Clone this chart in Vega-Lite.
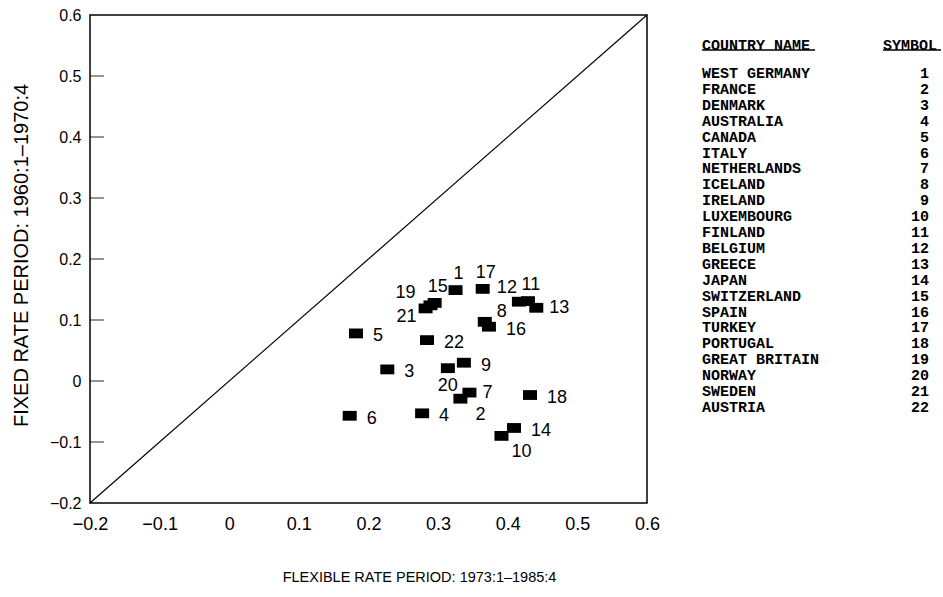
{
  "$schema": "https://vega.github.io/schema/vega-lite/v6.json",
  "background": "white",
  "padding": {"left": 10, "top": 6, "right": 0, "bottom": 0},
  "bounds": "flush",
  "spacing": 55,
  "config": {
    "view": {"stroke": "black", "strokeWidth": 1.5},
    "axis": {"grid": false, "domain": false, "labelColor": "black", "titleColor": "black", "tickColor": "black", "titleFontWeight": "normal", "labelOverlap": false, "labelFlush": false}
  },
  "datasets": {
    "countries": [
      {"symbol": 1, "country": "WEST GERMANY", "flexible": 0.325, "fixed": 0.149},
      {"symbol": 2, "country": "FRANCE", "flexible": 0.332, "fixed": -0.029},
      {"symbol": 3, "country": "DENMARK", "flexible": 0.227, "fixed": 0.019},
      {"symbol": 4, "country": "AUSTRALIA", "flexible": 0.277, "fixed": -0.053},
      {"symbol": 5, "country": "CANADA", "flexible": 0.182, "fixed": 0.078},
      {"symbol": 6, "country": "ITALY", "flexible": 0.173, "fixed": -0.057},
      {"symbol": 7, "country": "NETHERLANDS", "flexible": 0.345, "fixed": -0.019},
      {"symbol": 8, "country": "ICELAND", "flexible": 0.367, "fixed": 0.097},
      {"symbol": 9, "country": "IRELAND", "flexible": 0.337, "fixed": 0.030},
      {"symbol": 10, "country": "LUXEMBOURG", "flexible": 0.391, "fixed": -0.090},
      {"symbol": 11, "country": "FINLAND", "flexible": 0.429, "fixed": 0.131},
      {"symbol": 12, "country": "BELGIUM", "flexible": 0.416, "fixed": 0.130},
      {"symbol": 13, "country": "GREECE", "flexible": 0.441, "fixed": 0.120},
      {"symbol": 14, "country": "JAPAN", "flexible": 0.409, "fixed": -0.077},
      {"symbol": 15, "country": "SWITZERLAND", "flexible": 0.295, "fixed": 0.128},
      {"symbol": 16, "country": "SPAIN", "flexible": 0.373, "fixed": 0.089},
      {"symbol": 17, "country": "TURKEY", "flexible": 0.364, "fixed": 0.151},
      {"symbol": 18, "country": "PORTUGAL", "flexible": 0.432, "fixed": -0.023},
      {"symbol": 19, "country": "GREAT BRITAIN", "flexible": 0.289, "fixed": 0.124},
      {"symbol": 20, "country": "NORWAY", "flexible": 0.314, "fixed": 0.021},
      {"symbol": 21, "country": "SWEDEN", "flexible": 0.282, "fixed": 0.119},
      {"symbol": 22, "country": "AUSTRIA", "flexible": 0.284, "fixed": 0.067}
    ],
    "yticks": [
      {"value": -0.1}, {"value": 0}, {"value": 0.1}, {"value": 0.2}, {"value": 0.3}, {"value": 0.4}, {"value": 0.5}
    ]
  },
  "hconcat": [
    {
      "width": 557,
      "height": 488,
      "layer": [
        {
          "data": {"values": [{}]},
          "mark": {"type": "rule", "color": "black", "strokeWidth": 1.2},
          "encoding": {
            "x": {
              "datum": -0.2, "type": "quantitative",
              "scale": {"domain": [-0.2, 0.6], "nice": false, "zero": false},
              "axis": {
                "title": "FLEXIBLE RATE PERIOD:  1973:1–1985:4",
                "values": [-0.2, -0.1, 0, 0.1, 0.2, 0.3, 0.4, 0.5, 0.6],
                "format": ".1~f", "ticks": false, "labelPadding": 12,
                "labelFont": "Liberation Sans", "labelFontSize": 18,
                "titleFont": "Liberation Sans", "titleFontSize": 14.5,
                "titleX": 329, "titleY": 74, "titleBaseline": "middle"
              }
            },
            "y": {
              "datum": -0.2, "type": "quantitative",
              "scale": {"domain": [-0.2, 0.6], "nice": false, "zero": false},
              "axis": {
                "title": "FIXED RATE PERIOD:  1960:1–1970:4",
                "values": [-0.2, -0.1, 0, 0.1, 0.2, 0.3, 0.4, 0.5, 0.6],
                "format": ".1~f", "ticks": false, "labelPadding": 9,
                "labelFont": "Liberation Sans", "labelFontSize": 16,
                "titleFont": "Liberation Sans", "titleFontSize": 20,
                "titleX": -69, "titleY": 240, "titleBaseline": "middle", "titleAngle": 270
              }
            },
            "x2": {"datum": 0.6},
            "y2": {"datum": 0.6}
          }
        },
        {
          "data": {"name": "yticks"},
          "mark": {"type": "tick", "orient": "horizontal", "color": "black", "thickness": 1.2, "size": 14},
          "encoding": {
            "x": {"datum": -0.19, "type": "quantitative"},
            "y": {"field": "value", "type": "quantitative"}
          }
        },
        {
          "data": {"name": "countries"},
          "mark": {"type": "point", "shape": "M-1,-0.7L1,-0.7L1,0.7L-1,0.7Z", "filled": true, "color": "black", "size": 196, "opacity": 1},
          "encoding": {
            "x": {"field": "flexible", "type": "quantitative"},
            "y": {"field": "fixed", "type": "quantitative"}
          }
        },
        {
          "data": {"name": "countries"},
          "transform": [{"filter": {"field": "symbol", "oneOf": [5, 6, 4, 3, 18, 14, 16, 22, 9]}}],
          "mark": {"type": "text", "align": "left", "baseline": "middle", "dx": 17, "dy": 3, "font": "Liberation Sans", "fontSize": 18, "color": "black"},
          "encoding": {"x": {"field": "flexible", "type": "quantitative"}, "y": {"field": "fixed", "type": "quantitative"}, "text": {"field": "symbol"}}
        },
        {
          "data": {"name": "countries"},
          "transform": [{"filter": {"field": "symbol", "oneOf": [13, 7]}}],
          "mark": {"type": "text", "align": "left", "baseline": "middle", "dx": 13, "dy": 0, "font": "Liberation Sans", "fontSize": 18, "color": "black"},
          "encoding": {"x": {"field": "flexible", "type": "quantitative"}, "y": {"field": "fixed", "type": "quantitative"}, "text": {"field": "symbol"}}
        },
        {
          "data": {"name": "countries"},
          "transform": [{"filter": {"field": "symbol", "oneOf": [8]}}],
          "mark": {"type": "text", "align": "left", "baseline": "middle", "dx": 12, "dy": -10, "font": "Liberation Sans", "fontSize": 18, "color": "black"},
          "encoding": {"x": {"field": "flexible", "type": "quantitative"}, "y": {"field": "fixed", "type": "quantitative"}, "text": {"field": "symbol"}}
        },
        {
          "data": {"name": "countries"},
          "transform": [{"filter": {"field": "symbol", "oneOf": [1, 17, 11, 15]}}],
          "mark": {"type": "text", "align": "center", "baseline": "middle", "dx": 3, "dy": -16, "font": "Liberation Sans", "fontSize": 18, "color": "black"},
          "encoding": {"x": {"field": "flexible", "type": "quantitative"}, "y": {"field": "fixed", "type": "quantitative"}, "text": {"field": "symbol"}}
        },
        {
          "data": {"name": "countries"},
          "transform": [{"filter": {"field": "symbol", "oneOf": [20]}}],
          "mark": {"type": "text", "align": "center", "baseline": "middle", "dx": 0, "dy": 18, "font": "Liberation Sans", "fontSize": 18, "color": "black"},
          "encoding": {"x": {"field": "flexible", "type": "quantitative"}, "y": {"field": "fixed", "type": "quantitative"}, "text": {"field": "symbol"}}
        },
        {
          "data": {"name": "countries"},
          "transform": [{"filter": {"field": "symbol", "oneOf": [2, 10]}}],
          "mark": {"type": "text", "align": "center", "baseline": "middle", "dx": 20, "dy": 16, "font": "Liberation Sans", "fontSize": 18, "color": "black"},
          "encoding": {"x": {"field": "flexible", "type": "quantitative"}, "y": {"field": "fixed", "type": "quantitative"}, "text": {"field": "symbol"}}
        },
        {
          "data": {"name": "countries"},
          "transform": [{"filter": {"field": "symbol", "oneOf": [12]}}],
          "mark": {"type": "text", "align": "center", "baseline": "middle", "dx": -12, "dy": -14, "font": "Liberation Sans", "fontSize": 18, "color": "black"},
          "encoding": {"x": {"field": "flexible", "type": "quantitative"}, "y": {"field": "fixed", "type": "quantitative"}, "text": {"field": "symbol"}}
        },
        {
          "data": {"name": "countries"},
          "transform": [{"filter": {"field": "symbol", "oneOf": [19]}}],
          "mark": {"type": "text", "align": "center", "baseline": "middle", "dx": -25, "dy": -12, "font": "Liberation Sans", "fontSize": 18, "color": "black"},
          "encoding": {"x": {"field": "flexible", "type": "quantitative"}, "y": {"field": "fixed", "type": "quantitative"}, "text": {"field": "symbol"}}
        },
        {
          "data": {"name": "countries"},
          "transform": [{"filter": {"field": "symbol", "oneOf": [21]}}],
          "mark": {"type": "text", "align": "center", "baseline": "middle", "dx": -19, "dy": 9, "font": "Liberation Sans", "fontSize": 18, "color": "black"},
          "encoding": {"x": {"field": "flexible", "type": "quantitative"}, "y": {"field": "fixed", "type": "quantitative"}, "text": {"field": "symbol"}}
        }
      ]
    },
    {
      "width": 227,
      "height": 488,
      "view": {"stroke": null},
      "layer": [
        {
          "data": {"name": "countries"},
          "mark": {"type": "text", "align": "left", "baseline": "middle", "font": "Liberation Mono", "fontWeight": "bold", "fontSize": 15, "color": "black"},
          "encoding": {
            "x": {"datum": 0, "type": "quantitative", "scale": {"domain": [0, 1], "nice": false, "zero": false}, "axis": null},
            "y": {"field": "symbol", "type": "quantitative", "scale": {"domain": [-2.647, 28.04], "reverse": true, "nice": false, "zero": false}, "axis": null},
            "text": {"field": "country"}
          }
        },
        {
          "data": {"name": "countries"},
          "mark": {"type": "text", "align": "right", "baseline": "middle", "font": "Liberation Mono", "fontWeight": "bold", "fontSize": 15, "color": "black"},
          "encoding": {
            "x": {"datum": 1, "type": "quantitative"},
            "y": {"field": "symbol", "type": "quantitative"},
            "text": {"field": "symbol"}
          }
        },
        {
          "data": {"values": [{}]},
          "mark": {"type": "text", "text": "COUNTRY NAME", "align": "left", "baseline": "middle", "font": "Liberation Mono", "fontWeight": "bold", "fontSize": 15, "color": "black"},
          "encoding": {"x": {"datum": 0, "type": "quantitative"}, "y": {"datum": -0.761, "type": "quantitative"}}
        },
        {
          "data": {"values": [{}]},
          "mark": {"type": "text", "text": "SYMBOL", "align": "left", "baseline": "middle", "font": "Liberation Mono", "fontWeight": "bold", "fontSize": 15, "color": "black"},
          "encoding": {"x": {"datum": 0.797, "type": "quantitative"}, "y": {"datum": -0.761, "type": "quantitative"}}
        },
        {
          "data": {"values": [{}]},
          "mark": {"type": "rule", "color": "black", "strokeWidth": 1.5},
          "encoding": {"x": {"datum": 0, "type": "quantitative"}, "x2": {"datum": 0.498}, "y": {"datum": -0.446, "type": "quantitative"}}
        },
        {
          "data": {"values": [{}]},
          "mark": {"type": "rule", "color": "black", "strokeWidth": 1.5},
          "encoding": {"x": {"datum": 0.797, "type": "quantitative"}, "x2": {"datum": 1.053}, "y": {"datum": -0.446, "type": "quantitative"}}
        }
      ]
    }
  ]
}
